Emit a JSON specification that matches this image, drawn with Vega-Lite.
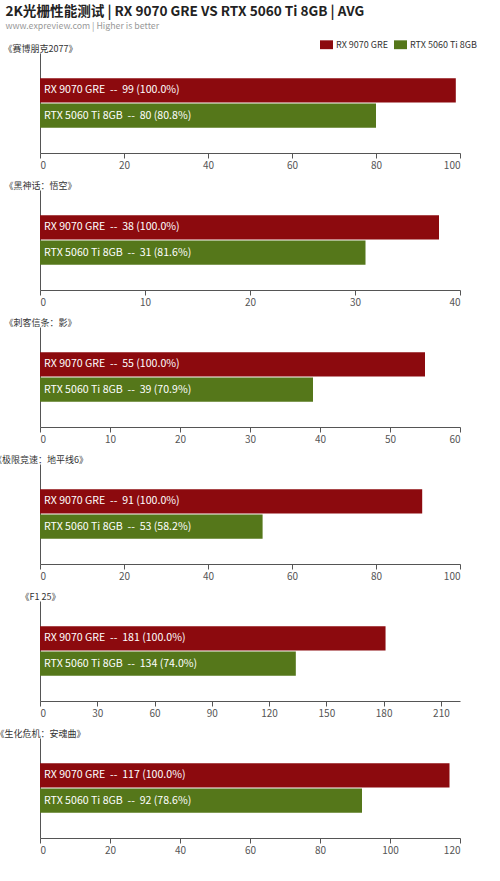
{
  "$schema": "https://vega.github.io/schema/vega-lite/v6.json",
  "padding": {"left": -8, "top": 4, "right": 5, "bottom": 5},
  "background": "white",
  "title": {
    "text": "2K光栅性能测试 | RX 9070 GRE VS RTX 5060 Ti 8GB | AVG",
    "subtitle": "www.expreview.com | Higher is better",
    "anchor": "start",
    "fontSize": 13.6,
    "fontWeight": "bold",
    "color": "#222222",
    "subtitleFontSize": 8.8,
    "subtitleColor": "#999999",
    "subtitlePadding": 4,
    "offset": 7,
    "dx": 13
  },
  "data": {
    "values": [
      {"game": "《赛博朋克2077》", "gpu": "RX 9070 GRE", "fps": 99, "label": "RX 9070 GRE\u00a0\u00a0--\u00a0\u00a099 (100.0%)"},
      {"game": "《赛博朋克2077》", "gpu": "RTX 5060 Ti 8GB", "fps": 80, "label": "RTX 5060 Ti 8GB\u00a0\u00a0--\u00a0\u00a080 (80.8%)"},
      {"game": "《黑神话：悟空》", "gpu": "RX 9070 GRE", "fps": 38, "label": "RX 9070 GRE\u00a0\u00a0--\u00a0\u00a038 (100.0%)"},
      {"game": "《黑神话：悟空》", "gpu": "RTX 5060 Ti 8GB", "fps": 31, "label": "RTX 5060 Ti 8GB\u00a0\u00a0--\u00a0\u00a031 (81.6%)"},
      {"game": "《刺客信条：影》", "gpu": "RX 9070 GRE", "fps": 55, "label": "RX 9070 GRE\u00a0\u00a0--\u00a0\u00a055 (100.0%)"},
      {"game": "《刺客信条：影》", "gpu": "RTX 5060 Ti 8GB", "fps": 39, "label": "RTX 5060 Ti 8GB\u00a0\u00a0--\u00a0\u00a039 (70.9%)"},
      {"game": "《极限竞速：地平线6》", "gpu": "RX 9070 GRE", "fps": 91, "label": "RX 9070 GRE\u00a0\u00a0--\u00a0\u00a091 (100.0%)"},
      {"game": "《极限竞速：地平线6》", "gpu": "RTX 5060 Ti 8GB", "fps": 53, "label": "RTX 5060 Ti 8GB\u00a0\u00a0--\u00a0\u00a053 (58.2%)"},
      {"game": "《F1 25》", "gpu": "RX 9070 GRE", "fps": 181, "label": "RX 9070 GRE\u00a0\u00a0--\u00a0\u00a0181 (100.0%)"},
      {"game": "《F1 25》", "gpu": "RTX 5060 Ti 8GB", "fps": 134, "label": "RTX 5060 Ti 8GB\u00a0\u00a0--\u00a0\u00a0134 (74.0%)"},
      {"game": "《生化危机：安魂曲》", "gpu": "RX 9070 GRE", "fps": 117, "label": "RX 9070 GRE\u00a0\u00a0--\u00a0\u00a0117 (100.0%)"},
      {"game": "《生化危机：安魂曲》", "gpu": "RTX 5060 Ti 8GB", "fps": 92, "label": "RTX 5060 Ti 8GB\u00a0\u00a0--\u00a0\u00a092 (78.6%)"}
    ]
  },
  "spacing": 11,
  "resolve": {"scale": {"color": "independent", "x": "independent"}, "legend": {"color": "independent"}},
  "vconcat": [
    {
      "width": 420, "height": 100,
      "transform": [{"filter": "datum.game === '《赛博朋克2077》'"}],
      "encoding": {
        "y": {"field": "gpu", "type": "nominal", "sort": ["RX 9070 GRE", "RTX 5060 Ti 8GB"], "scale": {"paddingInner": 0.04, "paddingOuter": 1},
          "axis": {"title": "《赛博朋克2077》", "labels": false, "ticks": false, "titleAngle": 0, "titleAlign": "center", "titleX": 0, "titleY": -5, "titleBaseline": "middle"}}
      },
      "layer": [
        {"mark": {"type": "bar"},
          "encoding": {
            "x": {"field": "fps", "type": "quantitative", "scale": {"domain": [0, 100]}, "axis": {"values": [0, 20, 40, 60, 80, 100], "title": null}},
            "color": {"field": "gpu", "type": "nominal", "scale": {"domain": ["RX 9070 GRE", "RTX 5060 Ti 8GB"], "range": ["#8c0a0e", "#55771a"]},
              "legend": {"title": null, "orient": "none", "legendX": 280, "legendY": -15, "direction": "horizontal", "symbolType": "M-1,-0.68H1V0.68H-1Z", "symbolSize": 169, "symbolStrokeWidth": 0, "symbolOpacity": 1, "labelFontSize": 9, "labelColor": "#333333", "columnPadding": 5, "labelOffset": 3}}
          }},
        {"mark": {"type": "text", "align": "left", "dx": 4, "color": "white", "fontSize": 10.6},
          "encoding": {"x": {"datum": 0, "type": "quantitative"}, "text": {"field": "label"}}}
      ]
    },
    {
      "width": 420, "height": 100,
      "transform": [{"filter": "datum.game === '《黑神话：悟空》'"}],
      "encoding": {
        "y": {"field": "gpu", "type": "nominal", "sort": ["RX 9070 GRE", "RTX 5060 Ti 8GB"], "scale": {"paddingInner": 0.04, "paddingOuter": 1},
          "axis": {"title": "《黑神话：悟空》", "labels": false, "ticks": false, "titleAngle": 0, "titleAlign": "center", "titleX": 0, "titleY": -5, "titleBaseline": "middle"}}
      },
      "layer": [
        {"mark": {"type": "bar"},
          "encoding": {
            "x": {"field": "fps", "type": "quantitative", "scale": {"domain": [0, 40]}, "axis": {"values": [0, 10, 20, 30, 40], "title": null}},
            "color": {"field": "gpu", "type": "nominal", "scale": {"domain": ["RX 9070 GRE", "RTX 5060 Ti 8GB"], "range": ["#8c0a0e", "#55771a"]}, "legend": null}
          }},
        {"mark": {"type": "text", "align": "left", "dx": 4, "color": "white", "fontSize": 10.6},
          "encoding": {"x": {"datum": 0, "type": "quantitative"}, "text": {"field": "label"}}}
      ]
    },
    {
      "width": 420, "height": 100,
      "transform": [{"filter": "datum.game === '《刺客信条：影》'"}],
      "encoding": {
        "y": {"field": "gpu", "type": "nominal", "sort": ["RX 9070 GRE", "RTX 5060 Ti 8GB"], "scale": {"paddingInner": 0.04, "paddingOuter": 1},
          "axis": {"title": "《刺客信条：影》", "labels": false, "ticks": false, "titleAngle": 0, "titleAlign": "center", "titleX": 0, "titleY": -5, "titleBaseline": "middle"}}
      },
      "layer": [
        {"mark": {"type": "bar"},
          "encoding": {
            "x": {"field": "fps", "type": "quantitative", "scale": {"domain": [0, 60]}, "axis": {"values": [0, 10, 20, 30, 40, 50, 60], "title": null}},
            "color": {"field": "gpu", "type": "nominal", "scale": {"domain": ["RX 9070 GRE", "RTX 5060 Ti 8GB"], "range": ["#8c0a0e", "#55771a"]}, "legend": null}
          }},
        {"mark": {"type": "text", "align": "left", "dx": 4, "color": "white", "fontSize": 10.6},
          "encoding": {"x": {"datum": 0, "type": "quantitative"}, "text": {"field": "label"}}}
      ]
    },
    {
      "width": 420, "height": 100,
      "transform": [{"filter": "datum.game === '《极限竞速：地平线6》'"}],
      "encoding": {
        "y": {"field": "gpu", "type": "nominal", "sort": ["RX 9070 GRE", "RTX 5060 Ti 8GB"], "scale": {"paddingInner": 0.04, "paddingOuter": 1},
          "axis": {"title": "《极限竞速：地平线6》", "labels": false, "ticks": false, "titleAngle": 0, "titleAlign": "center", "titleX": 0, "titleY": -5, "titleBaseline": "middle"}}
      },
      "layer": [
        {"mark": {"type": "bar"},
          "encoding": {
            "x": {"field": "fps", "type": "quantitative", "scale": {"domain": [0, 100]}, "axis": {"values": [0, 20, 40, 60, 80, 100], "title": null}},
            "color": {"field": "gpu", "type": "nominal", "scale": {"domain": ["RX 9070 GRE", "RTX 5060 Ti 8GB"], "range": ["#8c0a0e", "#55771a"]}, "legend": null}
          }},
        {"mark": {"type": "text", "align": "left", "dx": 4, "color": "white", "fontSize": 10.6},
          "encoding": {"x": {"datum": 0, "type": "quantitative"}, "text": {"field": "label"}}}
      ]
    },
    {
      "width": 420, "height": 100,
      "transform": [{"filter": "datum.game === '《F1 25》'"}],
      "encoding": {
        "y": {"field": "gpu", "type": "nominal", "sort": ["RX 9070 GRE", "RTX 5060 Ti 8GB"], "scale": {"paddingInner": 0.04, "paddingOuter": 1},
          "axis": {"title": "《F1 25》", "labels": false, "ticks": false, "titleAngle": 0, "titleAlign": "center", "titleX": 0, "titleY": -5, "titleBaseline": "middle"}}
      },
      "layer": [
        {"mark": {"type": "bar"},
          "encoding": {
            "x": {"field": "fps", "type": "quantitative", "scale": {"domain": [0, 210]}, "axis": {"values": [0, 30, 60, 90, 120, 150, 180, 210], "title": null}},
            "color": {"field": "gpu", "type": "nominal", "scale": {"domain": ["RX 9070 GRE", "RTX 5060 Ti 8GB"], "range": ["#8c0a0e", "#55771a"]}, "legend": null}
          }},
        {"mark": {"type": "text", "align": "left", "dx": 4, "color": "white", "fontSize": 10.6},
          "encoding": {"x": {"datum": 0, "type": "quantitative"}, "text": {"field": "label"}}}
      ]
    },
    {
      "width": 420, "height": 100,
      "transform": [{"filter": "datum.game === '《生化危机：安魂曲》'"}],
      "encoding": {
        "y": {"field": "gpu", "type": "nominal", "sort": ["RX 9070 GRE", "RTX 5060 Ti 8GB"], "scale": {"paddingInner": 0.04, "paddingOuter": 1},
          "axis": {"title": "《生化危机：安魂曲》", "labels": false, "ticks": false, "titleAngle": 0, "titleAlign": "center", "titleX": 0, "titleY": -5, "titleBaseline": "middle"}}
      },
      "layer": [
        {"mark": {"type": "bar"},
          "encoding": {
            "x": {"field": "fps", "type": "quantitative", "scale": {"domain": [0, 120]}, "axis": {"values": [0, 20, 40, 60, 80, 100, 120], "title": null}},
            "color": {"field": "gpu", "type": "nominal", "scale": {"domain": ["RX 9070 GRE", "RTX 5060 Ti 8GB"], "range": ["#8c0a0e", "#55771a"]}, "legend": null}
          }},
        {"mark": {"type": "text", "align": "left", "dx": 4, "color": "white", "fontSize": 10.6},
          "encoding": {"x": {"datum": 0, "type": "quantitative"}, "text": {"field": "label"}}}
      ]
    }
  ],
  "config": {
    "font": "Noto Sans CJK SC",
    "view": {"stroke": null},
    "axis": {"grid": false, "domainColor": "#555555", "tickColor": "#555555", "labelColor": "#555555", "labelFontSize": 10, "tickSize": 5, "labelPadding": 2, "titleFontSize": 9, "titleFontWeight": "normal", "titleColor": "#333333"}
  }
}
